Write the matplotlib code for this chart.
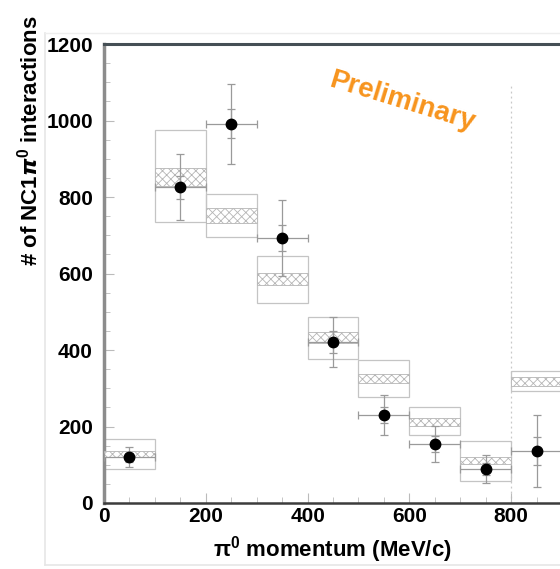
import matplotlib
matplotlib.use("Agg")
import matplotlib.pyplot as plt
from matplotlib.lines import Line2D
import numpy as np

plt.rcParams["font.family"] = ["Liberation Sans", "DejaVu Sans"]
plt.rcParams["font.weight"] = "bold"
plt.rcParams["hatch.color"] = "#8f8f8f"
plt.rcParams["hatch.linewidth"] = 0.6

# pi0 momentum bins (MeV/c)
bin_lo = [0, 100, 200, 300, 400, 500, 600, 700, 800]
bin_width = 100

# measured NC1pi0 counts with errors
data = [120, 826, 991, 693, 421, 230, 154, 89, 136]
err_tot = [26, 86, 105, 100, 66, 52, 48, 36, 94]
err_stat = [12, 30, 38, 33, 28, 22, 20, 15, 37]

# MC prediction: systematic band (outer box) and MC stat band (hatched)
mc_box_lo = [89, 735, 695, 523, 376, 277, 178, 57, 293]
mc_box_hi = [167, 975, 808, 646, 486, 373, 251, 162, 345]
mc_band_lo = [120, 829, 732, 570, 418, 313, 201, 102, 306]
mc_band_hi = [136, 876, 771, 601, 447, 337, 222, 120, 329]

centers = np.array(bin_lo) + bin_width / 2

fig = plt.figure(figsize=(5.6, 5.69), dpi=100)
ax = fig.add_axes([104 / 560, 66 / 569, 509 / 560, 459 / 569])

# faint slide frame
fig.add_artist(Line2D([45 / 560, 45 / 560], [4 / 569, 536 / 569],
                      transform=fig.transFigure, color="#e6e6e6", lw=1.2))
fig.add_artist(Line2D([45 / 560, 1.0], [4 / 569, 4 / 569],
                      transform=fig.transFigure, color="#e6e6e6", lw=1.2))
fig.add_artist(Line2D([45 / 560, 1.0], [536 / 569, 536 / 569],
                      transform=fig.transFigure, color="#eeeeee", lw=1.0))

box_h = np.array(mc_box_hi) - np.array(mc_box_lo)
band_h = np.array(mc_band_hi) - np.array(mc_band_lo)
ax.bar(centers, box_h, width=bin_width, bottom=mc_box_lo,
       facecolor="none", edgecolor="#c4c4c4", linewidth=0.9, zorder=2)
ax.bar(centers, band_h, width=bin_width, bottom=mc_band_lo,
       facecolor="white", edgecolor="#b5b5b5", hatch="xxxx",
       linewidth=0.6, zorder=3)

ax.errorbar(centers, data, yerr=err_tot, xerr=bin_width / 2, fmt="none",
            ecolor="#9a9a9a", elinewidth=0.9, capsize=3, capthick=0.9, zorder=4)
ax.errorbar(centers, data, yerr=err_stat, fmt="none",
            ecolor="#9a9a9a", elinewidth=0.9, capsize=3, capthick=0.9, zorder=4)
ax.plot(centers, data, "o", color="black", markersize=7.5, zorder=5)

ax.vlines(800, 0, 1090, colors="#c8c8c8", linestyles=(0, (1.5, 2.5)),
          linewidth=0.9, zorder=1)

ax.text(585, 1050, "Preliminary", color="#f7941d", fontsize=20,
        fontweight="bold", rotation=-17, ha="center", va="center")

ax.set_xlim(0, 1000)
ax.set_ylim(0, 1200)
ax.set_xticks(np.arange(0, 801, 200))
ax.set_xticks(np.arange(0, 1001, 50), minor=True)
ax.set_yticks(np.arange(0, 1201, 200))
ax.set_yticks(np.arange(0, 1201, 50), minor=True)
ax.tick_params(which="both", direction="in", colors="#bbbbbb",
               labelcolor="black", labelsize=15, top=False, right=False)
ax.tick_params(which="major", length=7, width=0.8)
ax.tick_params(which="minor", length=4, width=0.6)
ax.tick_params(axis="y", pad=8)
ax.tick_params(axis="x", pad=3)
for lab in ax.get_xticklabels() + ax.get_yticklabels():
    lab.set_fontweight("bold")

ax.spines["left"].set_color("#8c8c8c")
ax.spines["left"].set_linewidth(2.5)
ax.spines["bottom"].set_color("#3c3c3c")
ax.spines["bottom"].set_linewidth(1.8)
ax.spines["top"].set_color("#454f55")
ax.spines["top"].set_linewidth(2.2)
ax.spines["right"].set_visible(False)

ax.set_xlabel(r"$\mathregular{\pi^0}$ momentum (MeV/c)", fontsize=16,
              fontweight="bold")
ax.xaxis.set_label_coords((332 - 104) / 509, -(534 - 503) / 459)
ax.set_ylabel(r"# of NC1$\boldsymbol{\pi}^{\mathregular{0}}$ interactions",
              fontsize=16, fontweight="bold")
ax.yaxis.set_label_coords(-(104 - 42) / 509, (503 - 141) / 459)

fig.savefig("out.png", dpi=100)
